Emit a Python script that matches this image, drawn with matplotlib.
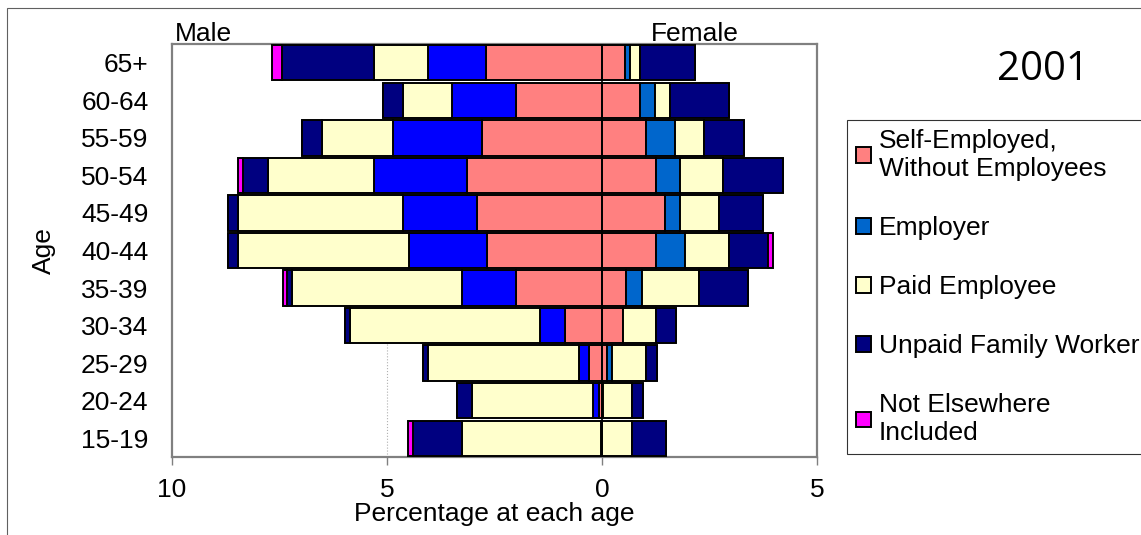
import numpy as np
import matplotlib.pyplot as plt
from matplotlib.patches import Rectangle

plt.rcParams['font.family'] = ['Liberation Sans', 'DejaVu Sans']

ages = ['15-19', '20-24', '25-29', '30-34', '35-39', '40-44',
        '45-49', '50-54', '55-59', '60-64', '65+']
categories = ['Self-Employed,\nWithout Employees', 'Employer', 'Paid Employee',
              'Unpaid Family Worker', 'Not Elsewhere\nIncluded']

# percentages, youngest first
male_self = [0.01, 0.07, 0.30, 0.87, 2.01, 2.68, 2.91, 3.15, 2.80, 2.01, 2.70]
male_empr = [0.01, 0.15, 0.23, 0.57, 1.25, 1.82, 1.71, 2.15, 2.05, 1.49, 1.35]
male_paid = [3.24, 2.81, 3.51, 4.42, 3.96, 3.96, 3.84, 2.47, 1.67, 1.12, 1.25]
male_unpd = [1.14, 0.35, 0.13, 0.12, 0.11, 0.23, 0.23, 0.59, 0.46, 0.47, 2.15]
male_nei = [0.10, 0.00, 0.00, 0.00, 0.10, 0.00, 0.00, 0.11, 0.00, 0.00, 0.23]

fem_self = [0.00, 0.02, 0.11, 0.48, 0.55, 1.26, 1.47, 1.26, 1.02, 0.89, 0.54]
fem_empr = [0.00, 0.01, 0.13, 0.00, 0.37, 0.67, 0.34, 0.55, 0.68, 0.35, 0.12]
fem_paid = [0.69, 0.67, 0.78, 0.78, 1.33, 1.02, 0.91, 1.01, 0.68, 0.34, 0.23]
fem_unpd = [0.80, 0.25, 0.25, 0.45, 1.15, 0.92, 1.03, 1.38, 0.93, 1.38, 1.27]
fem_nei = [0.00, 0.00, 0.00, 0.00, 0.00, 0.10, 0.00, 0.00, 0.00, 0.00, 0.00]

fem_colors = ['#FF8080', '#0066CC', '#FFFFCC', '#000080', '#FF00FF']
male_colors = ['#FF8080', '#0000FF', '#FFFFCC', '#000080', '#FF00FF']

FS = 19

fig = plt.figure(figsize=(11.41, 5.35), dpi=100)
ax = fig.add_axes([172/1141, 1-457/535, 645/1141, 413/535])

y = np.arange(len(ages))
h = 0.94

male = [male_self, male_empr, male_paid, male_unpd, male_nei]
female = [fem_self, fem_empr, fem_paid, fem_unpd, fem_nei]

left = np.zeros(len(ages))
for vals, c in zip(male, male_colors):
    v = np.array(vals)
    ax.barh(y, -v, left=-left, height=h, color=c, edgecolor='black', linewidth=1.4, zorder=3)
    left += v

left = np.zeros(len(ages))
handles = []
for vals, c in zip(female, fem_colors):
    v = np.array(vals)
    b = ax.barh(y, v, left=left, height=h, color=c, edgecolor='black', linewidth=1.4, zorder=3)
    handles.append(b)
    left += v

ax.axvline(0, color='black', lw=1.2, zorder=4)
ax.axvline(-5, color='#b0b0b0', lw=0.8, ls=':', zorder=1)

ax.set_xlim(-10, 5)
ax.set_ylim(-0.5, len(ages) - 0.5)
ax.set_xticks([-10, -5, 0, 5])
ax.set_xticklabels(['10', '5', '0', '5'], fontsize=FS)
ax.set_yticks(y)
ax.set_yticklabels(ages, fontsize=FS)
ax.tick_params(axis='y', length=0, pad=17)
ax.tick_params(axis='x', length=6, width=1, color='#808080', pad=9)
ax.get_xticklines()[4].set_color('black')
for s in ax.spines.values():
    s.set_color('#808080')
    s.set_linewidth(1.6)

ax.set_xlabel('Percentage at each age', fontsize=FS, labelpad=0)
ax.set_ylabel('Age', fontsize=FS, labelpad=18)

ax.text(0.005, 1.007, 'Male', transform=ax.transAxes, fontsize=FS, va='baseline', ha='left')
ax.text(0.742, 1.007, 'Female', transform=ax.transAxes, fontsize=FS, va='baseline', ha='left')
fig.text(1043/1141, 1-70/535, '2001', fontsize=29, ha='center', va='center',
         family=['Open Sans', 'DejaVu Sans'])

leg = fig.legend(handles, categories, loc='upper left',
                 bbox_to_anchor=(847/1141, 1-120/535), fontsize=FS,
                 frameon=True, fancybox=False, edgecolor='black',
                 handlelength=0.55, handleheight=0.55, handletextpad=0.3,
                 labelspacing=1.33, borderpad=0.35, borderaxespad=0)
leg.get_frame().set_linewidth(0.8)

fig.patches.append(Rectangle((7/1141, -0.01), 1.1, 1 - 8/535 + 0.01,
                             transform=fig.transFigure, fill=False,
                             edgecolor='#606060', lw=0.8))

fig.savefig('out.png', dpi=100)
